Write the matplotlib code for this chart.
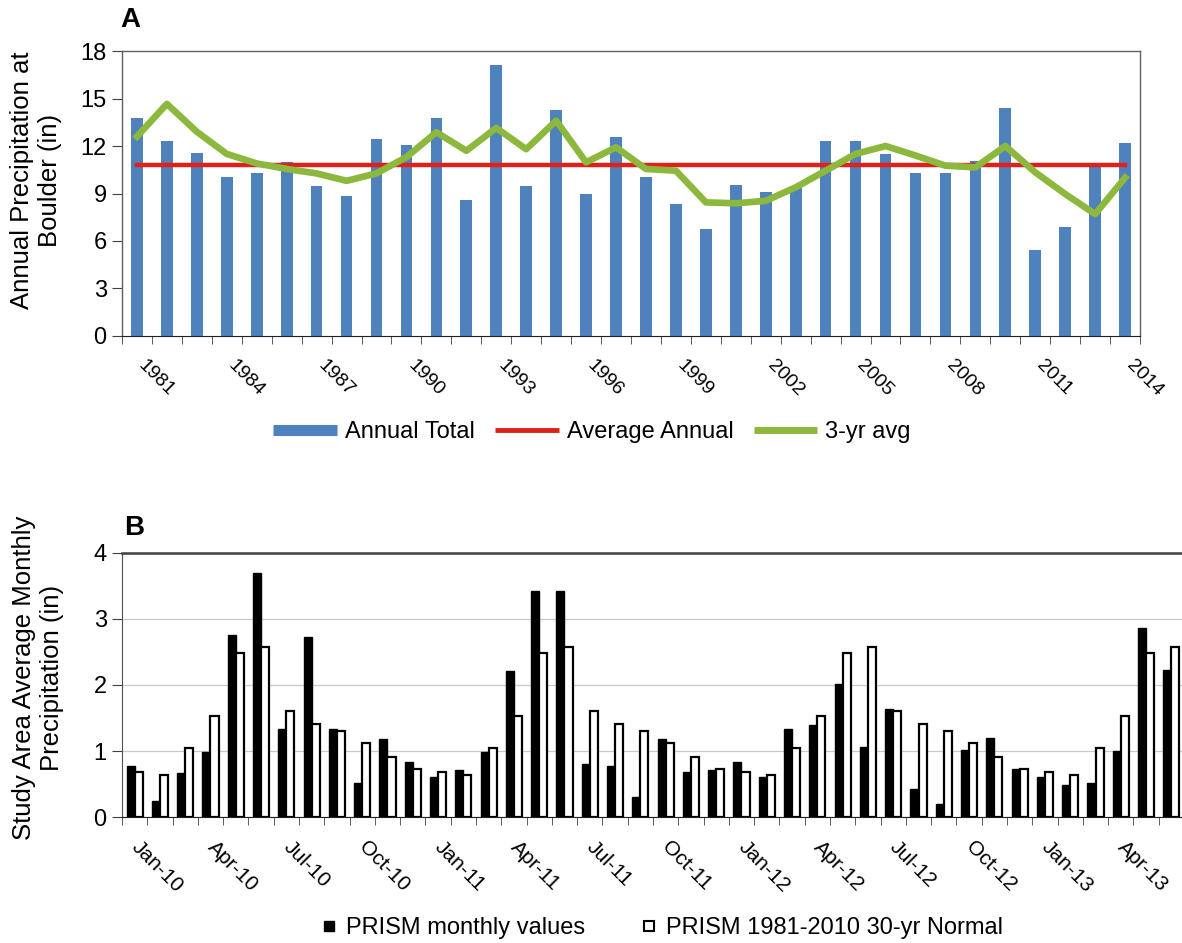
import numpy as np
import matplotlib
matplotlib.use("Agg")
import matplotlib.pyplot as plt
import matplotlib.transforms as mtransforms
from matplotlib.lines import Line2D

plt.rcParams['font.family'] = ['Liberation Sans', 'DejaVu Sans']

# ---------------- Panel A data ----------------
years = list(range(1981, 2015))
annual_total = [13.78, 12.34, 11.58, 10.06, 10.27, 11.01, 9.45, 8.82, 12.45, 12.09,
                13.78, 8.59, 17.09, 9.45, 14.28, 8.97, 12.55, 10.06, 8.33, 6.73,
                9.56, 9.07, 9.39, 12.34, 12.34, 11.50, 10.27, 10.27, 11.08, 14.41,
                5.42, 6.90, 10.70, 12.20]
average_annual = [10.8] * len(years)
three_yr_avg = [12.60, 14.66, 12.90, 11.50, 10.90, 10.55, 10.27, 9.80, 10.27, 11.30,
                12.87, 11.70, 13.14, 11.80, 13.60, 10.97, 11.92, 10.55, 10.44, 8.44,
                8.38, 8.54, 9.39, 10.44, 11.50, 12.00, 11.40, 10.76, 10.65, 12.00,
                10.34, 8.97, 7.70, 10.00]
yticks_a = [0, 3, 6, 9, 12, 15, 18]

# ---------------- Panel B data ----------------
months = ['Jan-10', 'Feb-10', 'Mar-10', 'Apr-10', 'May-10', 'Jun-10', 'Jul-10', 'Aug-10',
          'Sep-10', 'Oct-10', 'Nov-10', 'Dec-10',
          'Jan-11', 'Feb-11', 'Mar-11', 'Apr-11', 'May-11', 'Jun-11', 'Jul-11', 'Aug-11',
          'Sep-11', 'Oct-11', 'Nov-11', 'Dec-11',
          'Jan-12', 'Feb-12', 'Mar-12', 'Apr-12', 'May-12', 'Jun-12', 'Jul-12', 'Aug-12',
          'Sep-12', 'Oct-12', 'Nov-12', 'Dec-12',
          'Jan-13', 'Feb-13', 'Mar-13', 'Apr-13', 'May-13', 'Jun-13']
prism_monthly = [0.77, 0.24, 0.66, 0.98, 2.76, 3.70, 1.33, 2.73, 1.33, 0.51, 1.18, 0.83,
                 0.60, 0.71, 0.98, 2.21, 3.43, 3.43, 0.80, 0.77, 0.30, 1.18, 0.68, 0.71,
                 0.83, 0.60, 1.33, 1.39, 2.02, 1.06, 1.64, 0.43, 0.19, 1.01, 1.20, 0.73,
                 0.60, 0.48, 0.51, 1.00, 2.87, 2.22]
prism_normal = [0.68, 0.64, 1.05, 1.53, 2.49, 2.58, 1.61, 1.41, 1.31, 1.12, 0.91, 0.73,
                0.68, 0.64, 1.05, 1.53, 2.49, 2.58, 1.61, 1.41, 1.31, 1.12, 0.91, 0.73,
                0.68, 0.64, 1.05, 1.53, 2.49, 2.58, 1.61, 1.41, 1.31, 1.12, 0.91, 0.73,
                0.68, 0.64, 1.05, 1.53, 2.49, 2.58]
yticks_b = [0, 1, 2, 3, 4]

BLUE = '#4F81BD'
RED = '#E0201B'
GREEN = '#8DB83E'
YT_FS = 17
XT_FS_A = 14
XT_FS_B = 15
YL_FS = 18.5
LEG_FS = 17

fig = plt.figure(figsize=(11.82, 9.43), dpi=100)


def shift_labels(ax, dx_px):
    off = mtransforms.ScaledTranslation(dx_px / 100.0, 0, fig.dpi_scale_trans)
    for lab in ax.get_xticklabels():
        lab.set_transform(lab.get_transform() + off)


# ================= Panel A =================
axA = fig.add_axes([0.1032, 0.6437, 0.8613, 0.3022])
xa = np.arange(len(years))
axA.bar(xa, annual_total, width=0.39, color=BLUE, zorder=2)
axA.plot(xa, average_annual, color=RED, lw=3.2, zorder=3)
axA.plot(xa, three_yr_avg, color=GREEN, lw=4.8, zorder=4, solid_joinstyle='round')
axA.set_xlim(-0.5, len(years) - 0.5)
axA.set_ylim(0, 18)
axA.set_yticks(yticks_a)
axA.set_yticklabels([str(v) for v in yticks_a], fontsize=YT_FS)
lab_idx = list(range(0, len(years), 3))
axA.set_xticks(lab_idx)
axA.set_xticklabels([str(years[i]) for i in lab_idx], fontsize=XT_FS_A,
                    rotation=-45, ha='left', va='top')
axA.set_xticks(np.arange(-0.5, len(years), 1), minor=True)
axA.tick_params(axis='x', which='major', length=0, pad=15)
axA.tick_params(axis='x', which='minor', length=6, direction='out', color='#404040')
axA.tick_params(axis='y', length=7, direction='out', color='#404040', pad=4)
for s in ['top', 'right', 'left']:
    axA.spines[s].set_color('#606060')
    axA.spines[s].set_linewidth(1.0)
axA.spines['bottom'].set_color('#202020')
shift_labels(axA, -2)
fig.text(0.0305, 0.809, 'Annual Precipitation at\nBoulder (in)', fontsize=YL_FS,
         rotation=90, ha='center', va='center', linespacing=1.2, multialignment='center')
fig.text(0.1015, 0.979, 'A', fontsize=20, fontweight='bold', ha='left', va='center')

legA_handles = [Line2D([], [], color=BLUE, lw=8, solid_capstyle='butt'),
                Line2D([], [], color=RED, lw=3.5, solid_capstyle='butt'),
                Line2D([], [], color=GREEN, lw=5, solid_capstyle='butt')]
fig.legend(legA_handles, ['Annual Total', 'Average Annual', '3-yr avg'],
           loc='center', bbox_to_anchor=(0.501, 0.542), ncol=3, frameon=False,
           fontsize=LEG_FS, handlelength=2.7, handletextpad=0.34, columnspacing=0.85)

# ================= Panel B =================
axB = fig.add_axes([0.1032, 0.1336, 0.8985, 0.2800])
xb = np.arange(len(months))
bw = 0.32
axB.bar(xb - bw / 2, prism_monthly, width=bw, color='black', edgecolor='black',
        linewidth=1.0, zorder=2)
axB.bar(xb + bw / 2, prism_normal, width=bw, color='white', edgecolor='black',
        linewidth=1.6, zorder=2)
axB.set_xlim(-0.5, len(months) - 0.5)
axB.set_ylim(0, 4)
axB.set_yticks(yticks_b)
axB.set_yticklabels([str(v) for v in yticks_b], fontsize=YT_FS)
axB.yaxis.grid(True, color='#c8c8c8', lw=0.9, zorder=0)
axB.set_axisbelow(True)
lab_b = list(range(0, len(months), 3))
axB.set_xticks(lab_b)
axB.set_xticklabels([months[i] for i in lab_b], fontsize=XT_FS_B,
                    rotation=-45, ha='left', va='top')
axB.set_xticks(np.arange(-0.5, len(months), 1), minor=True)
axB.tick_params(axis='x', which='major', length=0, pad=15)
axB.tick_params(axis='x', which='minor', length=6, direction='out', color='#404040')
axB.tick_params(axis='y', length=7, direction='out', color='#404040', pad=4)
axB.spines['right'].set_visible(False)
axB.spines['top'].set_color('#404040')
axB.spines['top'].set_linewidth(1.8)
axB.spines['left'].set_color('#505050')
axB.spines['bottom'].set_color('#202020')
shift_labels(axB, -7)
fig.text(0.032, 0.281, 'Study Area Average Monthly\nPrecipitation (in)', fontsize=YL_FS,
         rotation=90, ha='center', va='center', linespacing=1.2, multialignment='center')
fig.text(0.105, 0.440, 'B', fontsize=20, fontweight='bold', ha='left', va='center')

legB_handles = [Line2D([], [], marker='s', ls='none', markersize=7,
                       markerfacecolor='black', markeredgecolor='black'),
                Line2D([], [], marker='s', ls='none', markersize=7,
                       markerfacecolor='white', markeredgecolor='black', markeredgewidth=1.5)]
fig.legend(legB_handles, ['PRISM monthly values', 'PRISM 1981-2010 30-yr Normal'],
           loc='center', bbox_to_anchor=(0.560, 0.016), ncol=2, frameon=False,
           fontsize=LEG_FS, handlelength=0.7, handletextpad=0.4, columnspacing=2.33)

fig.savefig('out.png', dpi=100)
